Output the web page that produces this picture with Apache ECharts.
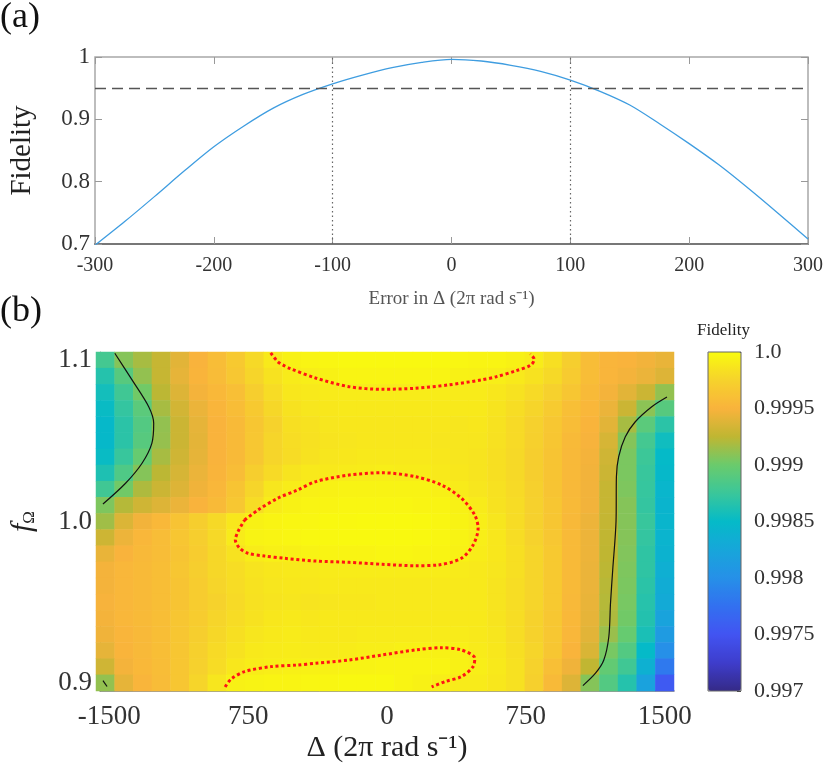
<!DOCTYPE html>
<html>
<head>
<meta charset="utf-8">
<script src="https://cdn.jsdelivr.net/npm/echarts@6/dist/echarts.min.js"></script>
<style>
  html, body { margin: 0; padding: 0; background: #fff; }
  #chart { width: 830px; height: 767px; }
</style>
</head>
<body>
<div id="chart"></div>
<script>
// ---- panel (a): fidelity vs. detuning error ----
const deltaErrors = [-300, -275, -250, -225, -200, -175, -150, -125, -100, -75, -50, -25, 0,
  25, 50, 75, 100, 125, 150, 175, 200, 225, 250, 275, 300];
const fidelityCurve = [0.698, 0.736, 0.776, 0.817, 0.856, 0.889, 0.918, 0.940, 0.957, 0.971, 0.983, 0.9915, 0.9963,
  0.9936, 0.9867, 0.977, 0.963, 0.945, 0.923, 0.893, 0.861, 0.827, 0.789, 0.749, 0.708];
const fidelityThreshold = 0.95;
const errorBounds = [-100, 100];

// ---- panel (b): fidelity map over detuning and f_Omega ----
const deltaValues = [-1500, -1400, -1300, -1200, -1100, -1000, -900, -800, -700, -600, -500,
  -400, -300, -200, -100, 0, 100, 200, 300, 400, 500, 600, 700, 800, 900, 1000, 1100, 1200, 1300, 1400, 1500];
const fOmegaValues = [0.90, 0.91, 0.92, 0.93, 0.94, 0.95, 0.96, 0.97, 0.98, 0.99, 1.00,
  1.01, 1.02, 1.03, 1.04, 1.05, 1.06, 1.07, 1.08, 1.09, 1.10];
// infidelity (1 - F) in units of 1e-5, rows from f = 1.10 (top) down to f = 0.90
const infidelityE5 = [
  [120, 92, 82, 72, 60, 50, 42, 32, 21, 11, 6, 4, 3, 2, 2, 2, 2, 2, 2, 3, 4, 4, 6, 9, 17, 28, 42, 48, 50, 53, 57],
  [135, 110, 88, 72, 58, 49, 43, 34, 23, 15, 10, 8, 6, 4, 4, 4, 4, 4, 4, 6, 7, 8, 11, 15, 21, 31, 42, 48, 52, 56, 62],
  [143, 122, 98, 76, 62, 52, 46, 40, 28, 19, 12, 11, 10, 9, 9, 9, 9, 9, 9, 10, 10, 12, 15, 20, 26, 35, 44, 52, 60, 70, 88],
  [148, 128, 108, 82, 67, 56, 48, 42, 32, 22, 15, 13, 12, 11, 11, 11, 11, 11, 11, 11, 11, 14, 18, 23, 31, 40, 47, 56, 70, 90, 110],
  [152, 132, 112, 88, 70, 58, 50, 44, 35, 25, 17, 15, 13, 12, 12, 12, 12, 12, 12, 13, 12, 15, 20, 26, 34, 42, 49, 60, 82, 108, 132],
  [152, 132, 110, 87, 70, 59, 50, 44, 34, 23, 18, 16, 14, 13, 12, 12, 12, 12, 13, 13, 13, 16, 20, 27, 35, 44, 51, 65, 92, 120, 145],
  [148, 126, 102, 82, 68, 58, 50, 44, 34, 23, 19, 15, 13, 12, 11, 11, 11, 11, 12, 13, 14, 17, 21, 28, 36, 45, 52, 68, 95, 124, 150],
  [138, 114, 92, 76, 65, 56, 49, 42, 28, 20, 14, 11, 11, 10, 9, 8, 9, 9, 11, 12, 14, 17, 21, 28, 36, 45, 53, 70, 95, 126, 152],
  [122, 98, 80, 70, 62, 54, 47, 36, 23, 13, 9, 7, 6, 5, 5, 5, 5, 5, 7, 10, 13, 16, 20, 27, 36, 45, 53, 72, 94, 127, 155],
  [94, 78, 68, 62, 56, 50, 44, 34, 19, 9, 6, 4, 4, 3, 3, 3, 3, 4, 4, 6, 10, 15, 19, 26, 35, 44, 53, 72, 92, 128, 157],
  [84, 63, 53, 46, 37, 28, 21, 12, 6, 4, 3, 3, 2, 2, 1, 1, 1, 2, 3, 5, 8, 13, 19, 26, 35, 45, 55, 73, 92, 126, 156],
  [69, 55, 47, 42, 35, 28, 21, 10, 5, 4, 3, 2, 2, 1, 1, 1, 1, 2, 3, 5, 8, 12, 18, 25, 34, 44, 55, 74, 92, 128, 158],
  [57, 50, 45, 42, 36, 30, 22, 15, 9, 7, 7, 5, 4, 4, 4, 3, 3, 4, 4, 6, 9, 12, 17, 23, 32, 44, 55, 75, 93, 130, 160],
  [52, 47, 44, 41, 35, 28, 22, 18, 14, 12, 11, 11, 10, 9, 9, 9, 9, 9, 9, 10, 11, 13, 17, 23, 32, 44, 56, 76, 94, 130, 164],
  [52, 47, 44, 41, 36, 30, 23, 19, 15, 13, 12, 12, 11, 11, 11, 11, 11, 11, 11, 11, 11, 14, 18, 23, 32, 44, 56, 77, 95, 132, 167],
  [51, 47, 44, 41, 36, 30, 25, 20, 16, 14, 13, 14, 13, 12, 12, 11, 11, 11, 11, 11, 11, 14, 18, 23, 32, 45, 57, 78, 96, 134, 170],
  [52, 47, 44, 41, 35, 30, 23, 19, 15, 12, 11, 12, 11, 11, 11, 11, 11, 11, 11, 11, 11, 14, 18, 25, 34, 46, 58, 80, 98, 136, 178],
  [54, 48, 45, 41, 35, 28, 22, 17, 13, 11, 10, 11, 11, 11, 10, 10, 10, 10, 10, 10, 11, 13, 18, 25, 34, 47, 60, 86, 102, 140, 188],
  [58, 49, 45, 41, 35, 27, 20, 15, 11, 10, 9, 10, 10, 9, 8, 8, 7, 6, 6, 7, 10, 12, 17, 23, 35, 49, 64, 96, 112, 150, 200],
  [68, 52, 46, 42, 35, 26, 19, 12, 9, 8, 7, 6, 6, 5, 5, 4, 4, 4, 4, 6, 8, 11, 16, 25, 40, 54, 74, 104, 122, 162, 218],
  [88, 58, 48, 43, 35, 23, 13, 6, 5, 4, 4, 3, 3, 2, 2, 2, 4, 6, 8, 10, 10, 12, 16, 27, 44, 62, 92, 112, 135, 180, 245]
];

// contour lines, [delta, fOmega]
const redContourTop = [[-628, 1.1044], [-590, 1.0990], [-563, 1.0970], [-526, 1.0949], [-386, 1.0889], [-204, 1.0835],
  [-27, 1.0819], [150, 1.0825], [332, 1.0846], [510, 1.0877], [590, 1.0897], [697, 1.0934], [778, 1.0970],
  [795, 1.1005], [774, 1.1038]];
const redContourCenter = [[-769, 1.0009], [-697, 1.0071], [-590, 1.0144], [-483, 1.0195], [-385, 1.0247], [-205, 1.0288],
  [-27, 1.0302], [152, 1.0278], [295, 1.0226], [402, 1.0144], [474, 1.0040], [492, 0.9958], [465, 0.9854],
  [402, 0.9772], [277, 0.9731], [152, 0.9726], [-27, 0.9735], [-205, 0.9747], [-385, 0.9755], [-554, 0.9772],
  [-661, 0.9786], [-751, 0.9803], [-795, 0.9834], [-819, 0.9885], [-805, 0.9937], [-769, 1.0009]];
const redContourBottom = [[-874, 0.8975], [-842, 0.9024], [-769, 0.9070], [-627, 0.9101], [-483, 0.9111], [-385, 0.9122],
  [-205, 0.9142], [-27, 0.9173], [152, 0.9204], [295, 0.9218], [402, 0.9204], [474, 0.9153], [465, 0.9101],
  [402, 0.9039], [313, 0.9008], [241, 0.8975]];
const blackContourLeft = [[-1470, 1.1042], [-1377, 1.0877], [-1287, 1.0711], [-1260, 1.0608], [-1270, 1.0484],
  [-1323, 1.0361], [-1412, 1.0237], [-1534, 1.0108]];
const blackContourCorner = [[-1534, 0.9014], [-1512, 0.8978]];
const blackContourRight = [[1512, 1.0771], [1430, 1.0711], [1341, 1.0618], [1287, 1.0525], [1251, 1.0401],
  [1239, 1.0278], [1237, 1.0003], [1219, 0.9700], [1207, 0.9493], [1198, 0.9286], [1171, 0.9142],
  [1126, 0.9060], [1058, 0.8983]];

const deltaTicks = [-1500, -750, 0, 750, 1500];
const deltaTickLabels = ['-1500', '750', '0', '750', '1500'];
const fOmegaTicks = [0.9, 1.0, 1.1];
const fOmegaTickLabels = ['0.9', '1.0', '1.1'];
const colorbarTicks = [0.997, 0.9975, 0.998, 0.9985, 0.999, 0.9995, 1.0];
const colorbarTickLabels = ['0.997', '0.9975', '0.998', '0.9985', '0.999', '0.9995', '1.0'];
const colorbarColors = ['#352a87', '#3e3dcc', '#4254f2', '#3270f0', '#2690e8', '#17a6da', '#05bac8',
  '#3ac79a', '#6acb6c', '#bfb632', '#f9b33c', '#f6d22c', '#f9fb0e'];

const FONT = 'Liberation Serif';

function tickLabel(ticks, labels) {
  return (v) => {
    const i = ticks.findIndex(t => Math.abs(t - v) < 1e-7);
    return i < 0 ? '' : labels[i];
  };
}

const chart = echarts.init(document.getElementById('chart'));

const curveData = deltaErrors.map((x, i) => [x, fidelityCurve[i]]);
const heatData = [];
infidelityE5.forEach((row, r) => {
  row.forEach((v, c) => {
    heatData.push([c, fOmegaValues.length - 1 - r, 1 - v * 1e-5]);
  });
});

const contour = (data, color, width, type) => ({
  type: 'line',
  xAxisIndex: 3,
  yAxisIndex: 3,
  data: data,
  smooth: 0.3,
  showSymbol: false,
  silent: true,
  clip: true,
  lineStyle: { color: color, width: width, type: type, cap: 'butt' },
  z: 5
});

chart.setOption({
  animation: false,
  textStyle: { fontFamily: FONT },
  title: [
    { text: '(a)', left: 0, top: 0, padding: 0, textStyle: { fontFamily: FONT, fontSize: 36, fontWeight: 'normal', color: '#111' } },
    { text: '(b)', left: 0, top: 294, padding: 0, textStyle: { fontFamily: FONT, fontSize: 36, fontWeight: 'normal', color: '#111' } },
    { text: 'Fidelity', left: 697, top: 322, padding: 0, textStyle: { fontFamily: FONT, fontSize: 17, fontWeight: 'normal', color: '#222' } }
  ],
  grid: [
    { left: 82, top: 57, width: 726, height: 187, show: true, borderColor: '#a8a8a8', borderWidth: 1.5 },
    { left: 96, top: 352, width: 578, height: 339 },
    { left: 96, top: 352, width: 578, height: 339 },
    { left: 708, top: 352, width: 33, height: 339, show: true, borderColor: '#666', borderWidth: 1, z: 10 }
  ],
  xAxis: [
    {
      gridIndex: 0, type: 'value', min: -300, max: 300, interval: 100,
      name: 'Error in Δ (2π rad s⁻¹)', nameLocation: 'middle', nameGap: 46,
      nameTextStyle: { fontFamily: FONT, fontSize: 19, color: '#555' },
      axisLine: { onZero: false, lineStyle: { color: '#777', width: 2 } },
      axisTick: { inside: true, length: 7, lineStyle: { color: '#999' } },
      axisLabel: { fontFamily: FONT, fontSize: 20, color: '#333', margin: 12 },
      splitLine: { show: false }
    },
    {
      gridIndex: 0, type: 'value', position: 'top', min: -300, max: 300, interval: 100,
      axisLine: { show: false, onZero: false },
      axisTick: { inside: true, length: 7, lineStyle: { color: '#999' } },
      axisLabel: { show: false },
      splitLine: { show: false }
    },
    {
      gridIndex: 1, type: 'category', data: deltaValues, show: false
    },
    {
      gridIndex: 2, type: 'value', min: -1550, max: 1550,
      name: 'Δ (2π rad s⁻¹)', nameLocation: 'middle', nameGap: 42,
      nameTextStyle: { fontFamily: FONT, fontSize: 30, color: '#222' },
      axisLine: { onZero: false, lineStyle: { color: '#777', width: 1.5 } },
      axisTick: { show: false },
      axisLabel: {
        customValues: deltaTicks, formatter: tickLabel(deltaTicks, deltaTickLabels),
        fontFamily: FONT, fontSize: 27, color: '#333', margin: 12
      },
      splitLine: { show: false }
    },
    { gridIndex: 3, type: 'value', show: false, min: 0, max: 1 }
  ],
  yAxis: [
    {
      gridIndex: 0, type: 'value', min: 0.7, max: 1, interval: 0.1,
      name: 'Fidelity', nameLocation: 'middle', nameGap: 58, nameRotate: 90,
      nameTextStyle: { fontFamily: FONT, fontSize: 29, color: '#222' },
      axisLine: { show: false, onZero: false },
      axisTick: { inside: true, length: 7, lineStyle: { color: '#999' } },
      axisLabel: { fontFamily: FONT, fontSize: 23, color: '#333', margin: 5 },
      splitLine: { show: false }
    },
    {
      gridIndex: 0, type: 'value', position: 'right', min: 0.7, max: 1, interval: 0.1,
      axisLine: { show: false, onZero: false },
      axisTick: { inside: true, length: 7, lineStyle: { color: '#999' } },
      axisLabel: { show: false },
      splitLine: { show: false }
    },
    {
      gridIndex: 1, type: 'category', data: fOmegaValues, show: false
    },
    {
      gridIndex: 2, type: 'value', min: 0.895, max: 1.105,
      name: '{f|f}{s|Ω}', nameLocation: 'middle', nameGap: 62, nameRotate: 90,
      nameTextStyle: {
        rich: {
          f: { fontFamily: FONT, fontSize: 30, fontStyle: 'italic', color: '#222' },
          s: { fontFamily: FONT, fontSize: 17, color: '#222', verticalAlign: 'bottom', padding: [12, 0, 0, 0] }
        }
      },
      axisLine: { onZero: false, lineStyle: { color: '#999', width: 1 } },
      axisTick: { show: false },
      axisLabel: {
        customValues: fOmegaTicks, formatter: tickLabel(fOmegaTicks, fOmegaTickLabels),
        fontFamily: FONT, fontSize: 27, color: '#333', margin: 8
      },
      splitLine: { show: false }
    },
    {
      gridIndex: 3, type: 'value', position: 'right', min: 0.997, max: 1.0,
      axisLine: { show: false, onZero: false },
      axisTick: { inside: true, length: 4, customValues: colorbarTicks, lineStyle: { color: '#333' } },
      axisLabel: {
        customValues: colorbarTicks, formatter: tickLabel(colorbarTicks, colorbarTickLabels),
        fontFamily: FONT, fontSize: 22, color: '#333', margin: 13
      },
      splitLine: { show: false }
    }
  ],
  visualMap: {
    type: 'continuous',
    seriesIndex: 1,
    dimension: 2,
    min: 0.997,
    max: 1.0,
    calculable: false,
    left: 708,
    top: 352,
    itemWidth: 33,
    itemHeight: 339,
    padding: 0,
    text: null,
    inRange: { color: colorbarColors }
  },
  series: [
    {
      type: 'line',
      xAxisIndex: 0,
      yAxisIndex: 0,
      data: curveData,
      smooth: 0.3,
      showSymbol: false,
      lineStyle: { color: '#3f9de0', width: 1.3 },
      markLine: {
        silent: true,
        symbol: 'none',
        label: { show: false },
        data: [
          { yAxis: fidelityThreshold, lineStyle: { color: '#555', width: 1.3, type: [11, 6] } },
          { xAxis: errorBounds[0], lineStyle: { color: '#666', width: 1.2, type: [1.5, 3] } },
          { xAxis: errorBounds[1], lineStyle: { color: '#666', width: 1.2, type: [1.5, 3] } }
        ]
      }
    },
    {
      type: 'heatmap',
      xAxisIndex: 2,
      yAxisIndex: 2,
      data: heatData,
      progressive: 0,
      silent: true,
      itemStyle: { borderWidth: 0 }
    },
    contour(redContourTop, '#ff1414', 3, [3, 2.7]),
    contour(redContourCenter, '#ff1414', 3, [3, 2.7]),
    contour(redContourBottom, '#ff1414', 3, [3, 2.7]),
    contour(blackContourLeft, '#111', 1.2, 'solid'),
    contour(blackContourCorner, '#111', 1.2, 'solid'),
    contour(blackContourRight, '#111', 1.2, 'solid')
  ]
});
</script>
</body>
</html>
